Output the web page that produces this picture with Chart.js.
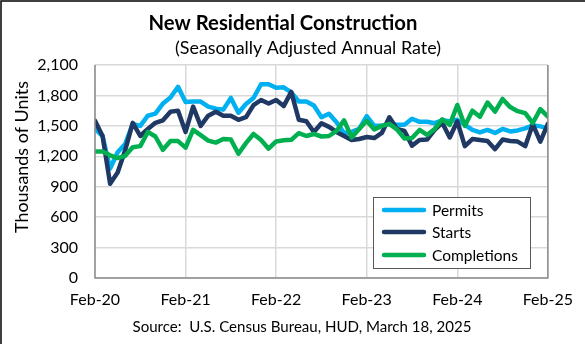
<!DOCTYPE html>
<html>
<head>
<meta charset="utf-8">
<script src="https://cdn.jsdelivr.net/npm/chart.js@4.4.1/dist/chart.umd.min.js"></script>
<style>
  html, body { margin: 0; padding: 0; background: #fff; }
</style>
</head>
<body>
<canvas id="myChart" width="585" height="344"></canvas>
<script>
// data block (thousands of units, SAAR), monthly Feb-20 .. Feb-25
const tickLabels = ['Feb-20', 'Feb-21', 'Feb-22', 'Feb-23', 'Feb-24', 'Feb-25'];

const permits = [
  1470, 1400, 1080, 1240, 1320, 1520, 1500, 1600, 1620, 1720, 1780, 1885,
  1735, 1740, 1740, 1690, 1670, 1660, 1775, 1630, 1715, 1775, 1910, 1910,
  1875, 1880, 1830, 1740, 1740, 1700, 1585, 1620, 1535, 1430, 1440, 1470,
  1595, 1500, 1500, 1520, 1510, 1510, 1570, 1540, 1540, 1526, 1555, 1545,
  1560, 1510, 1460, 1435, 1460, 1430, 1470, 1445, 1455, 1475, 1505, 1495,
  1475
];
const starts = [
  1550, 1400, 930, 1040, 1260, 1530, 1400, 1470, 1530, 1555, 1640, 1650,
  1440, 1690, 1500, 1600, 1640, 1600, 1600, 1560, 1585, 1705, 1755, 1720,
  1755, 1695, 1835, 1560, 1545, 1440, 1525, 1490, 1440, 1400, 1360, 1370,
  1390, 1380, 1430, 1585, 1470, 1450, 1305, 1360, 1365, 1460, 1530, 1385,
  1545, 1300, 1370, 1360, 1350, 1270, 1365, 1350, 1345, 1300, 1515, 1345,
  1520
];
const completions = [
  1248, 1248, 1210, 1182, 1205, 1290, 1300, 1440, 1395, 1264, 1350, 1350,
  1285, 1461, 1408, 1355, 1335, 1370, 1365, 1225, 1330, 1420, 1360, 1275,
  1346, 1358, 1362, 1428, 1400, 1420, 1395, 1400, 1450, 1555, 1385, 1470,
  1550, 1465, 1500, 1520, 1465, 1375, 1380, 1460, 1410, 1470, 1565, 1510,
  1706, 1500, 1650, 1590, 1730, 1640, 1765, 1685, 1645, 1625, 1528, 1665,
  1592
];

const seriesNames = ['Permits', 'Starts', 'Completions'];
const seriesColors = ['#00B0F0', '#203864', '#00B050'];

const FONT = 'Lato, "Open Sans", sans-serif';

function pts(arr) {
  return arr.map((v, i) => ({ x: i, y: v }));
}

// pick a font size so the text spans the wanted width
function fitFont(ctx, text, weight, width) {
  ctx.font = weight + ' 20px ' + FONT;
  const w = ctx.measureText(text).width;
  return weight + ' ' + (20 * width / w).toFixed(2) + 'px ' + FONT;
}

const decor = {
  id: 'decor',
  afterDraw(chart) {
    const ctx = chart.ctx;
    const a = chart.chartArea;
    ctx.save();

    // plot frame (left, right, bottom darker)
    ctx.strokeStyle = '#8c8c8c';
    ctx.lineWidth = 1.5;
    ctx.beginPath();
    ctx.moveTo(a.left, a.top);
    ctx.lineTo(a.left, a.bottom);
    ctx.lineTo(a.right, a.bottom);
    ctx.lineTo(a.right, a.top);
    ctx.stroke();

    // titles
    ctx.fillStyle = '#000';
    ctx.textAlign = 'center';
    ctx.textBaseline = 'middle';
    let t = 'New Residential Construction';
    ctx.font = fitFont(ctx, t, 'bold', 269);
    ctx.fillText(t, 283, 23);
    t = '(Seasonally Adjusted Annual Rate)';
    ctx.font = fitFont(ctx, t, 'normal', 266);
    ctx.fillText(t, 308, 48);
    t = 'Source:  U.S. Census Bureau, HUD, March 18, 2025';
    ctx.font = fitFont(ctx, t, 'normal', 339);
    ctx.fillText(t, 302, 327);

    // y axis title
    t = 'Thousands of Units';
    ctx.save();
    ctx.translate(22, 157);
    ctx.rotate(-Math.PI / 2);
    ctx.font = fitFont(ctx, t, 'normal', 152);
    ctx.fillText(t, 0, 0);
    ctx.restore();

    // legend box
    ctx.fillStyle = '#fff';
    ctx.fillRect(373.5, 197.5, 157, 71);
    ctx.strokeStyle = '#595959';
    ctx.lineWidth = 1;
    ctx.strokeRect(373.5, 197.5, 157, 71);
    const ly = [210, 232, 255];
    ctx.textAlign = 'left';
    ctx.font = '15.5px ' + FONT;
    seriesNames.forEach((name, i) => {
      ctx.strokeStyle = seriesColors[i];
      ctx.lineWidth = 4.5;
      ctx.lineCap = 'round';
      ctx.beginPath();
      ctx.moveTo(384, ly[i]);
      ctx.lineTo(424, ly[i]);
      ctx.stroke();
      ctx.fillStyle = '#000';
      ctx.fillText(name, 432, ly[i] + 1);
    });

    // outer frame of the picture
    ctx.strokeStyle = '#000';
    ctx.lineWidth = 1.5;
    ctx.beginPath();
    ctx.moveTo(1, 344);
    ctx.lineTo(1, 1);
    ctx.lineTo(585, 1);
    ctx.stroke();
    ctx.restore();
  }
};

const ctx = document.getElementById('myChart').getContext('2d');
const myChart = new Chart(ctx, {
  type: 'line',
  data: {
    datasets: [permits, starts, completions].map((arr, i) => ({
      label: seriesNames[i],
      data: pts(arr),
      borderColor: seriesColors[i],
      backgroundColor: seriesColors[i],
      borderWidth: 4.5,
      pointRadius: 0,
      tension: 0,
      borderJoinStyle: 'round',
      borderCapStyle: 'round',
      order: 2 - i
    }))
  },
  plugins: [decor],
  options: {
    responsive: false,
    animation: false,
    devicePixelRatio: 1,
    layout: { padding: { top: 65, right: 29, bottom: 0, left: 0 } },
    plugins: {
      legend: { display: false },
      tooltip: { enabled: false }
    },
    scales: {
      x: {
        type: 'linear',
        min: 0,
        max: 60,
        ticks: {
          stepSize: 12,
          maxRotation: 0,
          padding: 12,
          color: '#000',
          font: { family: FONT, size: 16 },
          callback: v => tickLabels[v / 12]
        },
        grid: { color: '#d9d9d9', lineWidth: 1.5, drawTicks: false },
        border: { display: false },
        afterFit: s => { s.height = 66; }
      },
      y: {
        min: 0,
        max: 2100,
        ticks: {
          stepSize: 300,
          padding: 17,
          color: '#000',
          font: { family: FONT, size: 16 },
          callback: v => v.toLocaleString('en-US')
        },
        grid: { color: '#d9d9d9', lineWidth: 1.5, drawTicks: false },
        border: { display: false },
        afterFit: s => { s.width = 95; }
      }
    }
  }
});
</script>
</body>
</html>
